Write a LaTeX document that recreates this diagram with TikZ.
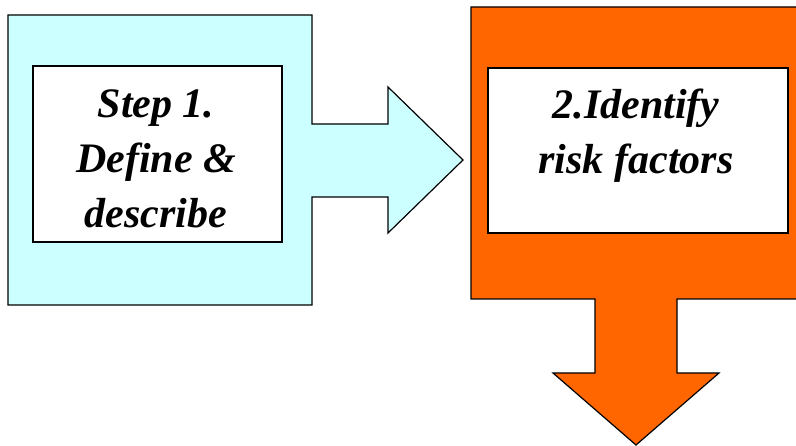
\documentclass[tikz,border=0pt]{standalone}
\usepackage{fontspec}
\setmainfont{Liberation Serif}
\usepackage{xcolor}
\usepackage{tikz}
\usetikzlibrary{shapes.geometric, arrows}
\definecolor{stepcyan}{HTML}{CCFFFF}
\definecolor{steporange}{HTML}{FF6600}
\tikzstyle{outline} = [draw=black, line width=1.2pt, line join=miter]
\tikzstyle{cyanblock} = [outline, fill=stepcyan]
\tikzstyle{orangeblock} = [outline, fill=steporange]
\tikzstyle{wbox} = [rectangle, draw=black, line width=1.2pt, fill=white, inner sep=0pt]
\tikzstyle{steptext} = [align=center, inner sep=0pt, font=\bfseries\itshape\fontsize{42}{55}\selectfont]

\begin{document}
\begin{tikzpicture}[x=1pt, y=-1pt]
\useasboundingbox (0,0) rectangle (796,446);

\draw [cyanblock] (8,15) -- (312,15) -- (312,124) -- (388,124) -- (388,87) -- (463,160)
  -- (388,233) -- (388,197) -- (312,197) -- (312,305) -- (8,305) -- cycle;
\draw [orangeblock] (471,7) -- (799,7) -- (799,299) -- (677,299) -- (677,373) -- (719,373)
  -- (636,445) -- (553,373) -- (595,373) -- (595,299) -- (471,299) -- cycle;

\node (box1) [wbox, minimum width=249pt, minimum height=176pt] at (157.5,154) {};
\node (box2) [wbox, minimum width=300pt, minimum height=165pt] at (638,150.5) {};

\node (txt1) [steptext] at (156,159) {Step 1.\\Define \&\\describe};
\node (txt2) [steptext] at (636,135.5) {2.Identify\\risk factors};

\end{tikzpicture}
\end{document}
